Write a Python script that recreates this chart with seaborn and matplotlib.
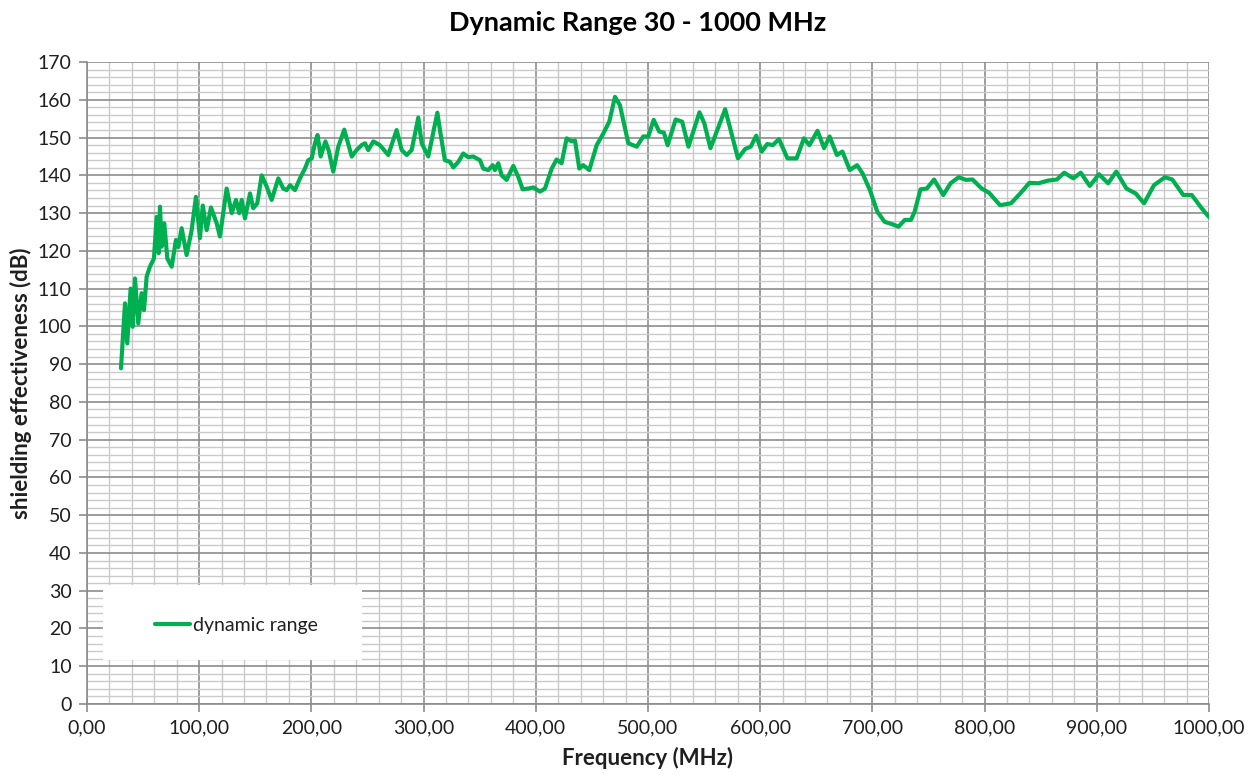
import numpy as np
import pandas as pd
import seaborn as sns
import matplotlib.pyplot as plt
from matplotlib.ticker import MultipleLocator, FuncFormatter
from matplotlib.patches import Rectangle

# Shielding effectiveness readings (MHz, dB)
freq_mhz = [
    30.3, 33.9, 35.9, 38.9, 40.7, 42.8, 45.7, 48.7, 50.8, 53.2, 56.1, 59.7,
    62.1, 63.9, 65.1, 66.5, 68.9, 71.6, 75.5, 79.3, 81.4, 84.4, 88.8, 93.3,
    97.1, 100.7, 103.2, 106.7, 110.5, 115.6, 118.5, 124.5, 129.0, 132.8, 135.7,
    137.9, 140.8, 145.3, 148.2, 151.8, 155.7, 160.2, 164.6, 170.5, 175.0, 178.0,
    181.0, 185.4, 189.8, 194.3, 197.2, 200.3, 203.2, 205.5, 208.3, 212.5, 215.5,
    219.5, 224.0, 229.3, 236.0, 240.3, 244.8, 247.8, 250.7, 255.2, 261.1, 268.5,
    276.0, 280.5, 285.0, 289.4, 295.3, 298.3, 304.2, 312.3, 314.6, 319.0, 323.5,
    326.5, 331.0, 335.4, 339.8, 344.3, 350.3, 353.2, 357.7, 361.6, 363.6, 366.6,
    369.6, 374.0, 380.0, 384.4, 388.3, 393.3, 397.8, 403.7, 408.2, 414.2, 418.6,
    423.0, 427.5, 432.0, 435.0, 438.8, 442.3, 447.7, 454.3, 460.2, 465.5, 470.6,
    475.0, 482.5, 490.0, 495.8, 500.3, 505.1, 510.0, 514.2, 517.5, 524.7, 530.5,
    536.1, 545.9, 550.2, 555.7, 568.8, 573.7, 580.2, 586.7, 591.6, 596.5, 601.4,
    606.3, 611.2, 616.8, 624.3, 632.5, 639.0, 643.9, 651.1, 657.0, 661.9, 668.4,
    673.3, 679.9, 686.4, 691.3, 697.8, 704.4, 710.9, 717.4, 723.3, 728.9, 734.4,
    737.7, 742.9, 748.5, 755.0, 763.2, 769.7, 776.9, 783.4, 789.3, 797.5, 804.0,
    813.8, 823.6, 831.8, 839.9, 848.1, 856.3, 864.4, 871.0, 879.1, 885.7, 893.8,
    902.0, 910.2, 917.4, 926.5, 934.7, 942.2, 951.0, 960.8, 967.3, 977.1, 984.7,
    993.5, 1000.0,
]
shielding_db = [
    88.9, 106.1, 95.5, 110.0, 99.9, 112.7, 100.8, 108.8, 104.3, 113.2, 115.8, 118.0,
    129.0, 119.4, 131.7, 121.1, 127.3, 118.0, 115.8, 122.9, 121.0, 126.0, 118.9, 125.5,
    134.3, 123.4, 132.0, 125.5, 131.5, 127.3, 123.8, 136.5, 130.0, 133.5, 130.0,
    133.5, 128.6, 135.2, 131.3, 132.6, 140.0, 137.0, 133.5, 139.2, 136.5, 136.1,
    137.4, 136.1, 139.2, 141.8, 144.0, 144.5, 148.5, 150.7, 145.0, 149.0, 146.5,
    141.0, 147.6, 152.1, 145.0, 146.7, 148.0, 148.5, 146.7, 149.0, 148.0, 145.4,
    152.0, 146.7, 145.4, 146.7, 155.3, 148.5, 145.0, 156.6, 152.0, 144.0, 143.6,
    142.1, 143.6, 145.8, 144.8, 145.0, 144.0, 141.8, 141.4, 142.7, 141.4, 143.2,
    140.0, 138.8, 142.5, 139.6, 136.3, 136.5, 136.8, 135.7, 136.5, 141.8, 144.2,
    143.2, 149.8, 149.0, 149.2, 141.8, 142.7, 141.4, 148.0, 151.1, 154.2, 160.8,
    158.6, 148.5, 147.6, 150.3, 150.3, 154.7, 151.6, 151.3, 148.0, 154.8, 154.2,
    147.6, 156.7, 153.8, 147.2, 157.5, 152.0, 144.5, 147.0, 147.6, 150.5, 146.3,
    148.3, 148.0, 149.6, 144.5, 144.5, 149.8, 148.0, 151.8, 147.2, 150.3, 145.4,
    146.3, 141.4, 142.7, 140.5, 136.1, 130.4, 127.7, 127.1, 126.4, 128.2, 128.2,
    130.4, 136.3, 136.5, 138.9, 134.8, 137.9, 139.5, 138.8, 138.9, 136.5, 135.4,
    132.1, 132.6, 135.2, 138.0, 137.9, 138.6, 138.9, 140.7, 139.2, 140.7, 137.2,
    140.3, 137.9, 141.0, 136.5, 135.2, 132.6, 137.4, 139.5, 138.9, 134.8, 134.8,
    131.3, 129.0,
]

df = pd.DataFrame({"freq": freq_mhz, "db": shielding_db})

sns.set_style("white")
plt.rcParams['font.family'] = ['Lato', 'DejaVu Sans']
text_col = '#1f1f1f'
major_col = '#8c8c8c'
minor_col = '#cacaca'

fig, ax = plt.subplots(figsize=(12.55, 7.76), dpi=100)
fig.subplots_adjust(left=0.0693, right=0.9633, top=0.920, bottom=0.0928)

sns.lineplot(data=df, x="freq", y="db", ax=ax, color='#00B050', linewidth=3.0,
             estimator=None, sort=False, label='dynamic range', zorder=3)
ax.lines[0].set_solid_joinstyle('round')
ax.lines[0].set_solid_capstyle('round')

ax.set_xlim(0, 1000)
ax.set_ylim(0, 170)
ax.xaxis.set_major_locator(MultipleLocator(100))
ax.xaxis.set_minor_locator(MultipleLocator(20))
ax.yaxis.set_major_locator(MultipleLocator(10))
ax.yaxis.set_minor_locator(MultipleLocator(2))
ax.xaxis.set_major_formatter(FuncFormatter(lambda v, p: f"{v:.2f}".replace('.', ',')))

ax.set_axisbelow(True)
ax.grid(which='minor', color=minor_col, linewidth=1.0)
ax.grid(which='major', color=major_col, linewidth=1.2)
ax.tick_params(which='major', direction='out', length=6, width=1.2, color=major_col,
               labelsize=14, labelcolor=text_col, pad=5, left=True, bottom=True)
ax.tick_params(which='minor', length=0)
for side in ['top', 'right']:
    ax.spines[side].set_visible(False)
for side in ['left', 'bottom']:
    ax.spines[side].set_color(major_col)
    ax.spines[side].set_linewidth(1.2)

# white legend box covering the grid
ax.add_patch(Rectangle((0.0143, 0.0685), 0.231, 0.117, transform=ax.transAxes,
                       facecolor='white', edgecolor='none', zorder=2))
ax.legend(loc='center left', bbox_to_anchor=(0.0537, 0.123), frameon=False,
          borderaxespad=0, fontsize=14, handlelength=1.8, handletextpad=0.15,
          labelcolor=text_col)

fig.text(0.508, 0.971, "Dynamic Range 30 - 1000 MHz", ha='center', va='center',
         fontsize=19.5, fontweight='bold', color='black')
ax.set_xlabel("Frequency (MHz)", fontsize=16, fontweight='bold', color=text_col, labelpad=8)
ax.set_ylabel("shielding effectiveness (dB)", fontsize=16, fontweight='bold', color=text_col, labelpad=4)

fig.savefig("out.png", dpi=100)
